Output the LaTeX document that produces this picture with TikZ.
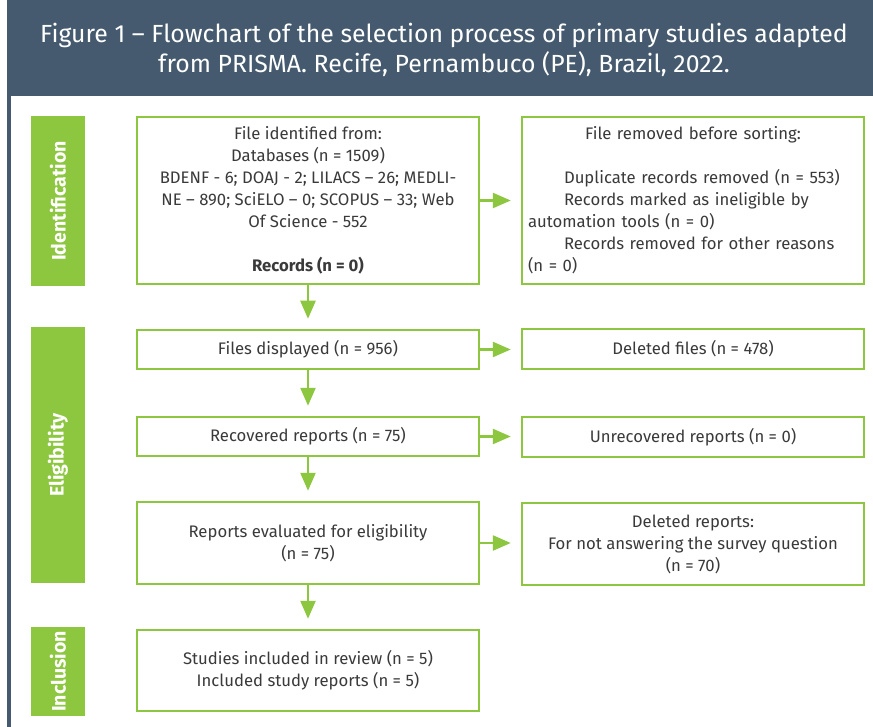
\documentclass[tikz,border=0pt]{standalone}
\usepackage{fontspec}
\setmainfont{Fira Sans}
\usetikzlibrary{arrows.meta}
\definecolor{slate}{HTML}{455A6E}
\definecolor{lgreen}{HTML}{8DC63F}
\definecolor{txt}{HTML}{3A3A3A}
\tikzset{
  box/.style={draw=lgreen, line width=2.5pt, fill=white, inner sep=0pt, minimum width=342pt, text=txt, font=\fontsize{16.7}{22}\selectfont, align=center},
  bar/.style={fill=lgreen, inner sep=0pt, minimum width=54pt},
  barlabel/.style={text=white, font=\fontsize{19.5}{20}\selectfont\bfseries, rotate=90},
  flow/.style={draw=lgreen, line width=2.5pt, -{Triangle[length=18pt, width=15pt]}, shorten >=10pt}
}
\begin{document}
\begin{tikzpicture}[x=1pt, y=-1pt]
\useasboundingbox (0,0) rectangle (873,727);
\fill[white] (0,0) rectangle (873,727);
\fill[slate] (7,0) rectangle (873,96);
\fill[slate] (7,96) rectangle (11,727);
\node[text=white, font=\fontsize{24.8}{30}\selectfont, align=center] (title) at (444,50)
  {Figure 1 -- Flowchart of the selection process of primary studies adapted\\
   from PRISMA. Recife, Pernambuco (PE), Brazil, 2022.};
% phase bars
\node[bar, minimum height=170pt] (idbar) at (58,201) {};
\node[barlabel] at (idbar.center) {Identification};
\node[bar, minimum height=256pt] (elbar) at (58,455) {};
\node[barlabel] at (elbar.center) {Eligibility};
\node[bar, minimum height=89pt] (inbar) at (58,671.5) {};
\node[barlabel] at (inbar.center) {Inclusion};
% left column
\node[box, minimum height=167pt] (b1) at (308,200.5) {File identified from:\\Databases (n = 1509)\\BDENF - 6; DOAJ - 2; LILACS -- 26; MEDLI-\\NE -- 890; SciELO -- 0; SCOPUS -- 33; Web\\Of Science - 552\\[22pt]\textbf{Records (n = 0)}};
\node[box, minimum height=39pt] (b2) at (308,349.5) {Files displayed (n = 956)};
\node[box, minimum height=39pt] (b3) at (308,436.5) {Recovered reports (n = 75)};
\node[box, minimum height=82pt] (b4) at (308,543) {Reports evaluated for eligibility\\(n = 75)};
\node[box, minimum height=81pt] (b5) at (308,670.5) {Studies included in review (n = 5)\\Included study reports (n = 5)};
% right column
\node[box, minimum height=167pt, text width=330pt, align=left] (r1) at (693,200.5)
  {\makebox[330pt][c]{File removed before sorting:}\\[22pt]
   \hspace*{36pt}Duplicate records removed (n = 553)\\
   \hspace*{36pt}Records marked as ineligible by\\
   automation tools (n = 0)\\
   \hspace*{36pt}Records removed for other reasons\\
   (n = 0)};
\node[box, minimum height=40pt] (r2) at (693,349) {Deleted files (n = 478)};
\node[box, minimum height=40pt] (r3) at (693,437) {Unrecovered reports (n = 0)};
\node[box, minimum height=82pt] (r4) at (693,544) {Deleted reports:\\For not answering the survey question\\(n = 70)};
% arrows
\draw[flow] (b1.east) -- (b1.east -| r1.west);
\draw[flow] (b2.east) -- (b2.east -| r2.west);
\draw[flow] (b3.east) -- (b3.east -| r3.west);
\draw[flow] (b4.east) -- (b4.east -| r4.west);
\draw[flow] (b1.south) -- (b2.north);
\draw[flow] (b2.south) -- (b3.north);
\draw[flow] (b3.south) -- (b4.north);
\draw[flow] (b4.south) -- (b5.north);
\end{tikzpicture}
\end{document}
